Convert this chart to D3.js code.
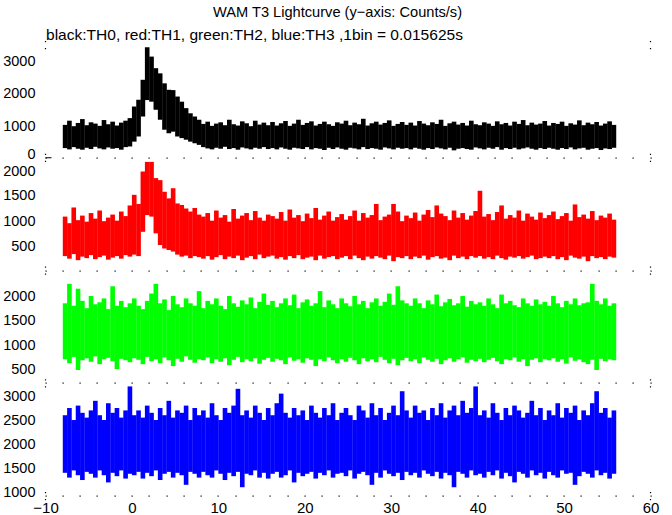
<!DOCTYPE html>
<html><head><meta charset="utf-8">
<script src="https://cdn.jsdelivr.net/npm/d3@7"></script>
<style>
body{margin:0;background:#fff}
svg{display:block}
text{font-family:"Liberation Sans",Arial,Helvetica,sans-serif;fill:#000}
</style>
</head><body>
<svg id="c" width="672" height="515"></svg>
<script>
// ---------- data ----------
const titleText = "WAM T3 Lightcurve (y\u2212axis: Counts/s)";
const subtitleText = "black:TH0, red:TH1, green:TH2, blue:TH3 ,1bin = 0.015625s";
const tStart = -8;          // s, first envelope bin
const binWidth = 0.5;       // s, envelope bin width (32 raw bins of 0.015625 s)
const xTicks = [-10, 0, 10, 20, 30, 40, 50, 60];
const seriesNames = ["TH0", "TH1", "TH2", "TH3"];
const yDomains = [[0, 3500], [16, 2242], [208, 2524], [917, 3266]];
const yTicks = [[0, 1000, 2000, 3000], [500, 1000, 1500, 2000], [500, 1000, 1500, 2000], [1000, 1500, 2000, 2500, 3000]];

// upper / lower envelope (counts/s) of each 0.5 s bin
const th0Hi = [
1020,1150,980,1080,1200,1010,1100,1060,990,1170,1040,1120,1000,1090,1150,1230,
1590,1800,2420,3430,3140,2780,2620,2310,2110,2100,1900,1740,1540,1380,1280,1180,
1050,1120,990,1060,1100,1010,1180,1040,1000,1130,1070,980,1150,1030,1090,1010,
1110,1000,1070,1140,990,1060,1180,1020,1080,1130,1000,1050,1120,1040,990,1100,
1060,1150,1010,1090,1040,1210,1000,1070,1120,1030,1080,1160,990,1050,1110,1020,
1090,1000,1140,1060,1010,1100,1050,1180,990,1070,1120,1030,1080,1000,1150,1040,
1010,1100,1060,990,1130,1040,1080,1000,1120,1050,1170,1010,1090,1030,1060,1140,
1000,1080,1050,1120,990,1070,1030,1160,1010,1090,1040,1110,1000,1060,1130,1020];
const th0Lo = [
300,260,330,280,250,310,270,340,290,260,320,280,300,250,330,350,
500,660,1280,1790,1740,1490,1180,870,760,810,660,610,560,500,450,400,
330,290,260,310,280,340,270,300,250,320,290,260,310,280,330,270,
300,260,320,280,250,310,290,270,330,260,300,280,240,310,270,320,
280,250,310,290,260,330,270,300,280,250,320,290,260,310,280,300,
260,310,280,250,300,270,320,290,260,310,230,280,300,270,250,320,
290,260,310,280,330,250,300,270,310,260,290,320,280,250,300,270,
310,280,250,300,270,320,260,290,310,250,280,300,240,290,270,310];

const th1Hi = [
1080,950,1260,1010,1100,980,1150,1040,1200,990,1060,1120,1000,1180,1090,1300,
1510,1330,1970,2160,2160,1840,1800,1570,1440,1640,1340,1310,1240,1180,1250,1120,
1080,1150,1000,1200,1060,1110,980,1230,1040,1100,1150,1010,1190,1060,1000,1120,
1090,1040,1170,1000,1220,1060,1110,990,1140,1050,1250,1020,1100,1180,1000,1070,
1130,1020,1090,1200,1000,1150,1060,1110,1330,1010,1080,1120,1330,1180,990,1100,
1050,1160,1000,1120,1210,1070,1300,1140,1090,1010,1200,1060,1150,1020,1100,1190,
1590,1080,1130,1010,1170,1300,1040,1110,1060,1200,1000,1140,1080,1020,1160,1050,
1110,1180,1030,1090,1150,1000,1320,1070,1120,1040,1190,1010,1100,1060,1140,1020];
const th1Lo = [
300,250,340,220,290,260,320,240,280,310,230,270,300,250,320,290,
330,300,780,1110,1080,750,520,450,420,390,330,290,310,260,300,280,
250,300,230,280,320,240,290,260,310,220,270,300,240,330,260,290,
310,250,280,230,300,260,320,240,270,290,220,310,250,280,300,240,
270,300,240,310,260,220,290,250,300,270,240,310,200,280,260,300,
240,290,260,310,230,280,300,250,270,220,310,260,290,240,300,270,
300,250,280,240,310,260,230,290,270,300,250,280,310,240,260,290,
260,300,240,280,220,310,270,250,290,200,300,260,280,240,290,270];

const th2Hi = [
1850,2250,1800,2150,1900,1750,2000,1830,1870,1950,1730,2200,1800,1900,1770,1850,
1950,1800,1730,1900,2050,2250,1850,1930,1710,2000,1830,1770,1950,1850,1800,2100,
1750,1900,1830,1950,1800,1730,2000,1850,1780,1910,1830,1970,1750,1880,2050,1820,
1900,1770,1850,1950,1810,2030,1750,1870,1930,1800,1850,2100,1770,1910,1830,1750,
1950,1850,1790,2000,1830,1900,1750,1870,1950,1800,1880,2050,1820,2200,1910,1850,
1800,1950,1850,1750,1910,1830,2030,1790,1870,1940,1810,1850,2000,1780,1900,1830,
1870,1800,1950,1830,1750,2030,1850,1900,1810,1770,1950,1850,1800,1930,1830,1880,
1800,2000,1850,1770,1900,1830,1950,1810,1850,1870,2250,1900,1830,1950,1800,1850];
const th2Lo = [
700,620,750,480,680,720,650,760,600,700,730,660,500,710,680,640,
720,690,600,750,660,700,620,740,680,560,710,650,760,690,630,700,
680,740,620,700,650,720,580,690,750,640,700,660,720,610,690,730,
650,710,680,600,740,670,700,630,720,690,560,700,660,740,680,620,
700,650,730,680,600,720,660,700,640,750,690,620,710,580,680,730,
660,700,620,740,690,650,710,600,680,720,650,700,740,630,690,660,
710,640,690,730,660,600,700,680,740,650,700,560,690,720,640,700,
680,720,650,700,610,740,670,700,640,600,690,480,710,660,700,680];

const th3Hi = [
2600,2750,2500,2800,2650,2550,2700,2900,2600,2500,2850,2650,2750,2550,2700,3200,
2600,2700,2550,2800,2650,2500,2750,2600,2900,2550,2700,2650,2800,2500,2750,2600,
2700,2550,2850,2600,2500,2750,2650,2800,3150,2600,2700,2550,2800,2650,2500,2750,
2600,2850,3050,2650,2550,2750,2600,2700,2500,2800,2650,2550,2750,2600,2850,2500,
2650,2750,2600,2500,2800,2700,2550,2850,2600,2750,2500,2650,2800,2600,3100,2700,
2550,2800,2650,2700,2500,2750,2600,2850,2550,2700,2800,2600,2900,2650,2750,3200,
2600,2700,2550,2850,2650,2500,2750,2600,2800,2700,2550,2650,2900,2600,2750,2500,
2700,2600,2850,2550,2750,2650,2800,2500,2700,2600,2850,3100,2650,2750,2550,2700];
const th3Lo = [
1400,1300,1450,1350,1250,1420,1380,1300,1450,1350,1200,1400,1330,1450,1280,1380,
1350,1420,1280,1400,1330,1450,1250,1380,1420,1300,1400,1350,1150,1420,1380,1300,
1420,1350,1300,1450,1380,1250,1400,1330,1420,1100,1380,1350,1450,1300,1400,1280,
1380,1420,1300,1350,1450,1200,1400,1330,1380,1420,1280,1400,1350,1450,1300,1380,
1400,1330,1450,1280,1380,1420,1350,1150,1400,1300,1450,1380,1330,1400,1250,1420,
1350,1400,1300,1450,1380,1330,1420,1280,1400,1350,1100,1420,1380,1300,1450,1350,
1380,1300,1420,1350,1450,1280,1400,1330,1200,1420,1380,1300,1450,1350,1400,1280,
1420,1350,1300,1450,1380,1400,1150,1330,1420,1380,1300,1450,1350,1400,1280,1380];

// ---------- drawing ----------
const seriesHi = [th0Hi, th1Hi, th2Hi, th3Hi];
const seriesLo = [th0Lo, th1Lo, th2Lo, th3Lo];
const seriesColors = ["#000000", "#ff0000", "#00ff00", "#0000ff"];

const svg = d3.select("#c");
svg.append("rect").attr("width", 672).attr("height", 515).attr("fill", "#fff");

const plotLeft = 45.5, plotRight = 650.5, plotTop = 45, panelH = 112.75;
const x = d3.scaleLinear().domain([-10, 60]).range([plotLeft, plotRight]);

svg.append("text").attr("x", 337.5).attr("y", 17).attr("text-anchor", "middle")
  .attr("font-size", 15).attr("textLength", 249).attr("lengthAdjust", "spacingAndGlyphs")
  .text(titleText);
svg.append("text").attr("x", 46).attr("y", 40).attr("font-size", 15)
  .attr("textLength", 417).attr("lengthAdjust", "spacingAndGlyphs")
  .text(subtitleText);

const fmt = d => d < 0 ? "\u2212" + (-d) : String(d);

seriesNames.forEach((name, k) => {
  const y0 = plotTop + k * panelH;
  const y = d3.scaleLinear().domain(yDomains[k]).range([y0 + panelH, y0]);
  const hi = seriesHi[k], lo = seriesLo[k];
  const n = Math.min(hi.length, lo.length);
  const g = svg.append("g").attr("class", "series-" + name);
  g.selectAll("rect").data(d3.range(n)).join("rect")
    .attr("x", i => x(tStart + i * binWidth))
    .attr("width", i => x(tStart + (i + 1) * binWidth) - x(tStart + i * binWidth) + 0.3)
    .attr("y", i => y(hi[i]))
    .attr("height", i => y(lo[i]) - y(hi[i]))
    .attr("fill", seriesColors[k]);

  const ax = svg.append("g").attr("transform", `translate(${plotLeft},0)`)
    .call(d3.axisLeft(y).tickValues(yTicks[k]).tickSize(0).tickPadding(10).tickFormat(fmt));
  ax.select(".domain").remove();
  ax.selectAll("text").attr("font-size", 14.5).attr("font-family", '"Liberation Sans",Arial,sans-serif').attr("fill", "#000");
  if (k === 0) {
    // the "0" label sits right on the panel boundary; lift it so it clears the label below
    ax.selectAll(".tick").filter(d => d === 0).select("text").attr("dy", "0.02em");
  }
  if (k === 1) {
    ax.selectAll(".tick").filter(d => d === 2000).select("text").attr("dy", "0.4em");
  }
});

// panel boundary minor-tick dots (between panels and along the bottom)
const boundaries = d3.range(1, 5).map(k => plotTop + k * panelH);
const dotT = d3.range(-10, 61, 2);
boundaries.forEach(by => {
  svg.append("g").selectAll("rect").data(dotT).join("rect")
    .attr("x", t => Math.round(x(t)) - 0.5).attr("y", Math.round(by) - 0.5)
    .attr("width", 1.2).attr("height", 1.2).attr("fill", "#000");
});
// small corner marks on the left / right frame edges
d3.range(5).map(k => plotTop + k * panelH).forEach(by => {
  [plotLeft, plotRight].forEach(bx => {
    [-4, 3].forEach(off => {
      svg.append("rect").attr("x", bx - 0.6).attr("y", by + off)
        .attr("width", 1.2).attr("height", 1.2).attr("fill", "#000");
    });
  });
});
// tick at 0 of the top panel
svg.append("line").attr("x1", plotLeft).attr("x2", plotLeft + 6)
  .attr("y1", plotTop + panelH).attr("y2", plotTop + panelH)
  .attr("stroke", "#000").attr("stroke-width", 1);

// bottom axis labels
const xa = svg.append("g").attr("transform", `translate(0,${plotTop + 4 * panelH})`)
  .call(d3.axisBottom(x).tickValues(xTicks).tickSize(0).tickPadding(6).tickFormat(fmt));
xa.select(".domain").remove();
xa.selectAll("text").attr("font-size", 15).attr("font-family", '"Liberation Sans",Arial,sans-serif').attr("fill", "#000");
</script>
</body></html>
